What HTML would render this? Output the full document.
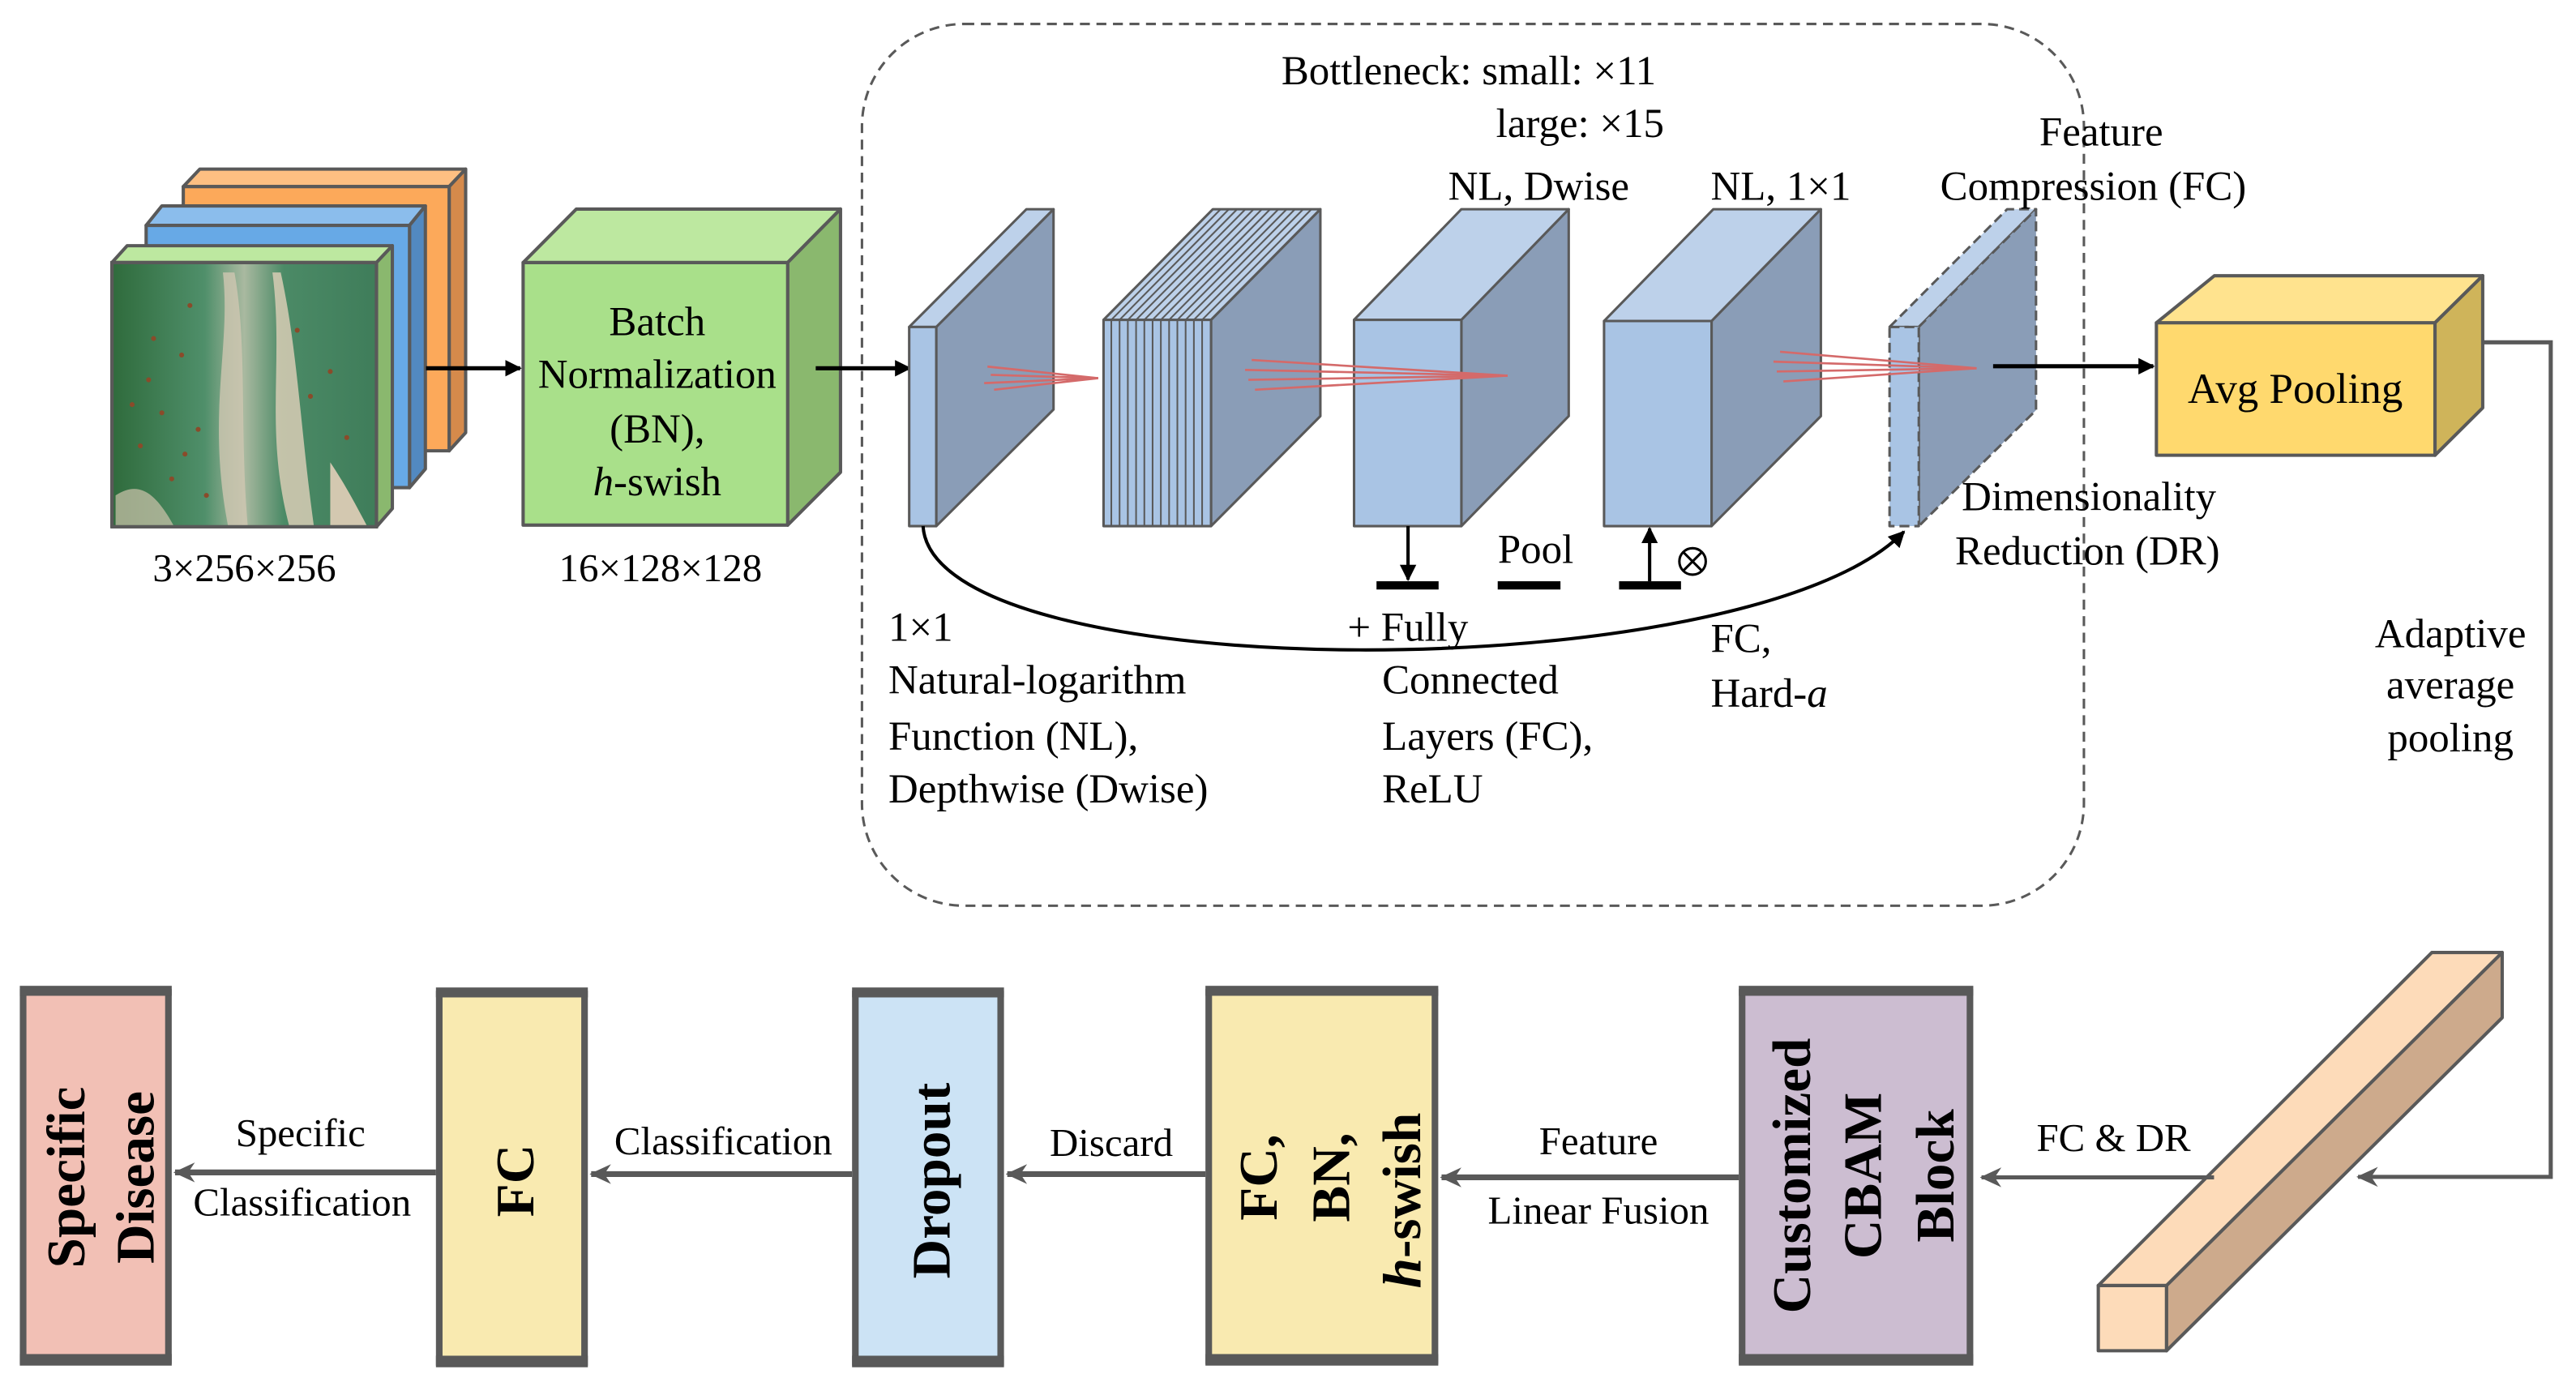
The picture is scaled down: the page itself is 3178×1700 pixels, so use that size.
<!DOCTYPE html>
<html><head><meta charset="utf-8"><style>
html,body{margin:0;padding:0;background:#fff;width:3178px;height:1700px;overflow:hidden}
svg{display:block}
svg, svg text{font-family:"Liberation Serif","Times New Roman","DejaVu Serif",serif}
text{fill:#000}
</style></head><body>
<svg width="3178" height="1700" viewBox="0 0 1560 834.5" preserveAspectRatio="none" xmlns="http://www.w3.org/2000/svg" font-family="Liberation Serif, Times New Roman, serif">
<defs>
<marker id="ah" markerWidth="10" markerHeight="10" refX="9" refY="5" orient="auto" markerUnits="userSpaceOnUse"><path d="M0,0 L10,5 L0,10 z" fill="#000"/></marker>
<marker id="ahg" markerWidth="14" markerHeight="14" refX="12" refY="7" orient="auto" markerUnits="userSpaceOnUse"><path d="M0,1 L13,7 L0,13 L4,7 z" fill="#595959"/></marker>
<linearGradient id="leaf" x1="0" x2="1" y1="0" y2="0">
<stop offset="0" stop-color="#2f6b3c"/><stop offset="0.35" stop-color="#4f8f6a"/><stop offset="0.5" stop-color="#a9b9a0"/><stop offset="0.65" stop-color="#4b8a66"/><stop offset="1" stop-color="#3f7d5a"/></linearGradient>
</defs>
<g stroke="#595959" stroke-width="2" stroke-linejoin="round">
<rect x="522" y="14.5" width="740" height="534" rx="62" fill="none" stroke="#595959" stroke-width="1.5" stroke-dasharray="6,4"/>
<polygon points="111,113 121,102.4 282,102.4 272,113" fill="#fdbf82"/>
<polygon points="272,113 282,102.4 282,262 272,273" fill="#d58a4b"/>
<rect x="111" y="113" width="161" height="160" fill="#fca95a"/>
<polygon points="88.5,136.5 98,124.7 257.6,124.7 248,136.5" fill="#8bbdec"/>
<polygon points="248,136.5 257.6,124.7 257.6,284 248,295.3" fill="#5289c0"/>
<rect x="88.5" y="136.5" width="159.5" height="158.8" fill="#67a9e6"/>
<polygon points="67.8,159 77,148.8 237.6,148.8 228,159" fill="#bde8a0"/>
<polygon points="228,159 237.6,148.8 237.6,308 228,319" fill="#8ab86e"/>
<rect x="67.8" y="159" width="160.2" height="160" fill="url(#leaf)"/>
</g>
<g stroke="none">
<path d="M135,165 C140,210 125,250 138,318 L150,318 C145,260 150,210 142,165z" fill="#cfc7b2" opacity="0.8"/>
<path d="M165,165 C172,220 160,260 175,318 L190,318 C182,260 180,210 170,165z" fill="#d8cdb5" opacity="0.85"/>
<path d="M200,280 C210,295 215,305 222,318 L200,318z" fill="#d3c8b0"/>
<path d="M70,300 C85,290 95,300 105,318 L70,318z" fill="#cfc5ad" opacity="0.7"/>
<g fill="#8a4b2a">
<circle cx="90" cy="230" r="1.5"/><circle cx="98" cy="250" r="1.5"/><circle cx="110" cy="215" r="1.5"/><circle cx="85" cy="270" r="1.5"/><circle cx="120" cy="260" r="1.5"/><circle cx="104" cy="290" r="1.5"/><circle cx="180" cy="200" r="1.5"/><circle cx="188" cy="240" r="1.5"/><circle cx="200" cy="225" r="1.5"/><circle cx="115" cy="185" r="1.5"/><circle cx="93" cy="205" r="1.5"/><circle cx="125" cy="300" r="1.5"/><circle cx="80" cy="245" r="1.5"/><circle cx="112" cy="275" r="1.5"/><circle cx="210" cy="265" r="1.5"/></g>
</g>
<rect x="67.8" y="159" width="160.2" height="160" fill="none" stroke="#595959" stroke-width="2"/>
<text x="148" y="352" font-size="24" text-anchor="middle">3×256×256</text>

<g stroke="#595959" stroke-width="2" stroke-linejoin="round">
<polygon points="316.8,159 349,126.6 509,126.6 477,159" fill="#bde8a0"/>
<polygon points="477,159 509,126.6 509,286 477,318" fill="#8ab86e"/>
<rect x="316.8" y="159" width="160.2" height="159" fill="#a9e08a"/>
</g>
<g font-size="25" text-anchor="middle">
<text x="398" y="203">Batch</text>
<text x="398" y="235">Normalization</text>
<text x="398" y="268">(BN),</text>
<text x="398" y="300"><tspan font-style="italic">h</tspan>-swish</text>
</g>
<text x="400" y="352" font-size="24" text-anchor="middle">16×128×128</text>
<line x1="258" y1="223" x2="315" y2="223" stroke="#000" stroke-width="2.5" marker-end="url(#ah)"/>
<line x1="494" y1="223" x2="551" y2="223" stroke="#000" stroke-width="2.5" marker-end="url(#ah)"/>

<g stroke="#595959" stroke-width="1.5" stroke-linejoin="round">
<polygon points="567,198 638,126.7 638,248 567,318.6" fill="#8a9db7"/>
<polygon points="550.6,198 621.6,126.7 638,126.7 567,198" fill="#bdd1ea"/>
<rect x="550.6" y="198" width="16.4" height="120.6" fill="#a9c4e4"/>

<polygon points="733.4,193.7 799.6,126.7 799.6,252 733.4,318.6" fill="#8a9db7"/>
<polygon points="668.3,193.7 734.5,126.7 799.6,126.7 733.4,193.7" fill="#bdd1ea"/>
<rect x="668.3" y="193.7" width="65.1" height="124.9" fill="#a9c4e4"/>
</g>
<g stroke="#595959" stroke-width="1">
<line x1="673" y1="193.7" x2="673" y2="318.6"/><line x1="678" y1="193.7" x2="678" y2="318.6"/><line x1="683" y1="193.7" x2="683" y2="318.6"/><line x1="688" y1="193.7" x2="688" y2="318.6"/><line x1="693" y1="193.7" x2="693" y2="318.6"/><line x1="698" y1="193.7" x2="698" y2="318.6"/><line x1="703" y1="193.7" x2="703" y2="318.6"/><line x1="708" y1="193.7" x2="708" y2="318.6"/><line x1="713" y1="193.7" x2="713" y2="318.6"/><line x1="718" y1="193.7" x2="718" y2="318.6"/><line x1="723" y1="193.7" x2="723" y2="318.6"/><line x1="728" y1="193.7" x2="728" y2="318.6"/>
<line x1="673" y1="193.7" x2="739.2" y2="126.7"/><line x1="678" y1="193.7" x2="744.2" y2="126.7"/><line x1="683" y1="193.7" x2="749.2" y2="126.7"/><line x1="688" y1="193.7" x2="754.2" y2="126.7"/><line x1="693" y1="193.7" x2="759.2" y2="126.7"/><line x1="698" y1="193.7" x2="764.2" y2="126.7"/><line x1="703" y1="193.7" x2="769.2" y2="126.7"/><line x1="708" y1="193.7" x2="774.2" y2="126.7"/><line x1="713" y1="193.7" x2="779.2" y2="126.7"/><line x1="718" y1="193.7" x2="784.2" y2="126.7"/><line x1="723" y1="193.7" x2="789.2" y2="126.7"/><line x1="728" y1="193.7" x2="794.2" y2="126.7"/>
</g>
<g stroke="#595959" stroke-width="1.5" stroke-linejoin="round">
<polygon points="885,193.7 950,126.7 950,252 885,318.6" fill="#8a9db7"/>
<polygon points="820,193.7 885,126.7 950,126.7 885,193.7" fill="#bdd1ea"/>
<rect x="820" y="193.7" width="65" height="124.9" fill="#a9c4e4"/>

<polygon points="1036.5,194.4 1102.7,126.7 1102.7,252 1036.5,318.6" fill="#8a9db7"/>
<polygon points="971.4,194.4 1037.6,126.7 1102.7,126.7 1036.5,194.4" fill="#bdd1ea"/>
<rect x="971.4" y="194.4" width="65.1" height="124.2" fill="#a9c4e4"/>
</g>
<g stroke="#595959" stroke-width="1.5" stroke-dasharray="6,3" stroke-linejoin="round">
<polygon points="1144.3,198 1215.5,126.7 1233,126.7 1162,198" fill="#bdd1ea"/>
<polygon points="1162,198 1233,126.7 1233,248.4 1162,318.6" fill="#8a9db7"/>
<rect x="1144.3" y="198" width="17.7" height="120.6" fill="#a9c4e4"/>
</g>
<g stroke="#d46a6a" stroke-width="1.3">
<line x1="598" y1="222" x2="665" y2="229"/><line x1="600" y1="227" x2="665" y2="229"/><line x1="596" y1="232" x2="665" y2="229"/><line x1="602" y1="236" x2="665" y2="229"/>
<line x1="758" y1="218" x2="913" y2="227.5"/><line x1="754" y1="224" x2="913" y2="227.5"/><line x1="756" y1="230" x2="913" y2="227.5"/><line x1="760" y1="236" x2="913" y2="227.5"/>
<line x1="1078" y1="213" x2="1197" y2="223"/><line x1="1074" y1="219" x2="1197" y2="223"/><line x1="1076" y1="225" x2="1197" y2="223"/><line x1="1080" y1="231" x2="1197" y2="223"/>
</g>
<line x1="1207" y1="221.8" x2="1304" y2="221.8" stroke="#000" stroke-width="2.5" marker-end="url(#ah)"/>
<line x1="852.7" y1="318.6" x2="852.7" y2="351" stroke="#000" stroke-width="2" marker-end="url(#ah)"/>
<rect x="833.6" y="352" width="37.6" height="5" fill="#000"/>
<rect x="907" y="352" width="38" height="5" fill="#000"/>
<rect x="980.5" y="352" width="37.5" height="5" fill="#000"/>
<line x1="999" y1="352" x2="999" y2="320" stroke="#000" stroke-width="2" marker-end="url(#ah)"/>
<circle cx="1025" cy="340" r="8" fill="none" stroke="#000" stroke-width="1.5"/>
<line x1="1019.4" y1="334.4" x2="1030.6" y2="345.6" stroke="#000" stroke-width="1.5"/>
<line x1="1030.6" y1="334.4" x2="1019.4" y2="345.6" stroke="#000" stroke-width="1.5"/>
<text x="930" y="341" font-size="25" text-anchor="middle">Pool</text>
<path d="M559,318.6 C565,418 1060,418 1153,322" fill="none" stroke="#000" stroke-width="2" marker-end="url(#ah)"/>
<g font-size="25">
<text x="776" y="51">Bottleneck: small: ×11</text>
<text x="906" y="83">large: ×15</text>
<text x="877" y="121">NL, Dwise</text>
<text x="1036" y="121">NL, 1×1</text>
<text x="1235" y="88">Feature</text>
<text x="1175" y="121">Compression (FC)</text>
<text x="538" y="388">1×1</text>
<text x="538" y="420">Natural-logarithm</text>
<text x="538" y="454">Function (NL),</text>
<text x="538" y="486">Depthwise (Dwise)</text>
<text x="816" y="388">+ Fully</text>
<text x="837" y="420">Connected</text>
<text x="837" y="454">Layers (FC),</text>
<text x="837" y="486">ReLU</text>
<text x="1036" y="395">FC,</text>
<text x="1036" y="428">Hard-<tspan font-style="italic">a</tspan></text>
<text x="1188" y="309">Dimensionality</text>
<text x="1184" y="342">Reduction (DR)</text>
<text x="1484" y="392" text-anchor="middle">Adaptive</text>
<text x="1484" y="423" text-anchor="middle">average</text>
<text x="1484" y="455" text-anchor="middle">pooling</text>
</g>
<g stroke="#595959" stroke-width="2" stroke-linejoin="round">
<polygon points="1305.9,195.5 1341,167 1503.5,167 1474.6,195.5" fill="#ffe38e"/>
<polygon points="1474.6,195.5 1503.5,167 1503.5,247 1474.6,275.7" fill="#cfb45a"/>
<rect x="1305.9" y="195.5" width="168.7" height="80.2" fill="#ffd96e"/>
</g>
<text x="1390" y="244" font-size="26" text-anchor="middle">Avg Pooling</text>
<polyline points="1503.5,207.3 1544.7,207.3 1544.7,712.7 1428,712.7" fill="none" stroke="#595959" stroke-width="2.5" marker-end="url(#ahg)"/>
<g stroke="#595959" stroke-width="2" stroke-linejoin="round">
<polygon points="1312,778.5 1515.3,576.8 1515.3,616.3 1312,818" fill="#cdaa8c"/>
<polygon points="1270.7,778.5 1472.7,576.8 1515.3,576.8 1312,778.5" fill="#fddbb9"/>
<rect x="1270.7" y="778.5" width="41.3" height="39.5" fill="#fddbb9"/>
</g>
<line x1="1340.8" y1="713" x2="1200" y2="713" stroke="#595959" stroke-width="2.5" marker-end="url(#ahg)"/>
<text x="1280" y="697" font-size="24" text-anchor="middle">FC &amp; DR</text>
<g stroke="#595959" stroke-width="4">
<rect x="14" y="601" width="88" height="224" fill="#f2c0b5"/>
<rect x="266" y="602" width="88" height="224" fill="#f9eab0"/>
<rect x="518" y="602" width="88" height="224" fill="#cce3f5"/>
<rect x="732" y="601" width="137" height="224" fill="#f9eab0"/>
<rect x="1055" y="601" width="138" height="224" fill="#ccbdd1"/>
</g>
<g fill="#595959">
<rect x="12" y="597" width="92" height="6"/><rect x="12" y="820" width="92" height="6"/>
<rect x="264" y="598" width="92" height="6"/><rect x="264" y="821" width="92" height="6"/>
<rect x="516" y="598" width="92" height="6"/><rect x="516" y="821" width="92" height="6"/>
<rect x="730" y="597" width="141" height="6"/><rect x="730" y="820" width="141" height="6"/>
<rect x="1053" y="597" width="142" height="6"/><rect x="1053" y="820" width="142" height="6"/>
</g>
<g stroke="#595959" stroke-width="3.5">
<line x1="264" y1="710" x2="106" y2="710" marker-end="url(#ahg)"/>
<line x1="516" y1="711" x2="358" y2="711" marker-end="url(#ahg)"/>
<line x1="730" y1="711" x2="610" y2="711" marker-end="url(#ahg)"/>
<line x1="1053" y1="713" x2="873" y2="713" marker-end="url(#ahg)"/>
</g>
<g font-size="24" text-anchor="middle">
<text x="182" y="694">Specific</text>
<text x="183" y="736">Classification</text>
<text x="438" y="699">Classification</text>
<text x="673" y="700">Discard</text>
<text x="968" y="699">Feature</text>
<text x="968" y="741">Linear Fusion</text>
</g>
<g font-size="33" font-weight="bold" text-anchor="middle" dominant-baseline="central">
<text transform="translate(40,713) rotate(-90)">Specific</text>
<text transform="translate(82,713) rotate(-90)">Disease</text>
<text transform="translate(312,715) rotate(-90)">FC</text>
<text transform="translate(564,715) rotate(-90)">Dropout</text>
<text transform="translate(762,713) rotate(-90)">FC,</text>
<text transform="translate(806,713) rotate(-90)">BN,</text>
<text transform="translate(849,727) rotate(-90)"><tspan font-style="italic">h</tspan>-swish</text>
<text transform="translate(1085,712) rotate(-90)">Customized</text>
<text transform="translate(1128,712) rotate(-90)">CBAM</text>
<text transform="translate(1172,712) rotate(-90)">Block</text>
</g>
</svg>
</body></html>
